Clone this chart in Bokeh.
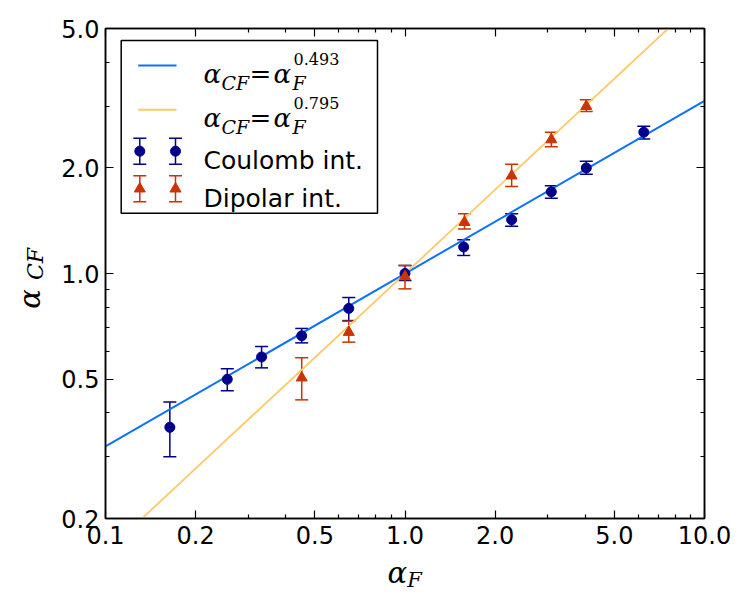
import math
from bokeh.plotting import figure
from bokeh.models import (Range1d, LinearScale, LogAxis, FixedTicker, NumeralTickFormatter,
                          ColumnDataSource, Whisker, TeeHead, Label, CustomLabelingPolicy,
                          CustomJSTickFormatter)
from bokeh.embed import file_html
from bokeh.resources import INLINE

# ---------------- data ----------------
coulomb_x = [0.164, 0.255, 0.332, 0.452, 0.649, 1.0, 1.57, 2.27, 3.08, 4.03, 6.27]
coulomb_y = [0.364, 0.499, 0.578, 0.664, 0.795, 1.0, 1.19, 1.423, 1.71, 2.00, 2.53]
coulomb_lo = [0.30, 0.463, 0.538, 0.634, 0.734, 0.955, 1.126, 1.365, 1.64, 1.92, 2.42]
coulomb_hi = [0.43, 0.535, 0.619, 0.697, 0.854, 1.054, 1.248, 1.48, 1.78, 2.09, 2.63]

dipolar_x = [0.452, 0.649, 1.0, 1.58, 2.27, 3.08, 4.03]
dipolar_y = [0.504, 0.680, 0.98, 1.40, 1.90, 2.41, 3.00]
dipolar_lo = [0.436, 0.637, 0.904, 1.34, 1.77, 2.30, 2.90]
dipolar_hi = [0.575, 0.731, 1.054, 1.48, 2.05, 2.53, 3.13]

fit_x = [0.1, 10.0]
coulomb_fit = [0.321, 3.11]   # alpha_F ** 0.493
dipolar_fit = [0.160, 6.24]   # alpha_F ** 0.795

x_major = [0.1, 0.2, 0.5, 1.0, 2.0, 5.0, 10.0]
x_minor = [0.3, 0.4, 0.6, 0.7, 0.8, 0.9, 3.0, 4.0, 6.0, 7.0, 8.0, 9.0]
y_major = [0.2, 0.5, 1.0, 2.0, 5.0]
y_minor = [0.3, 0.4, 0.6, 0.7, 0.8, 0.9, 3.0, 4.0]

legend_labels = ["Coulomb int.", "Dipolar int."]
fit_exponents = ["0.493", "0.795"]

# ---------------- styles ----------------
BLUE_LINE = "#0a72ff"
YELLOW_LINE = "#ffc966"
NAVY = "#00008b"
RED = "#cc3300"
SERIF = "DejaVu Serif"
SANS = "DejaVu Sans"

FL, FT, FW, FH = 105, 28, 599, 490   # frame box on the page
W, H = 748, 612

p = figure(width=W, height=H, x_axis_type="log", y_axis_type="log",
           x_range=Range1d(0.1, 10.0), y_range=Range1d(0.2, 5.0),
           output_backend="svg", toolbar_location=None,
           min_border_left=FL, min_border_right=W - FL - FW,
           min_border_top=FT, min_border_bottom=H - FT - FH)
p.grid.visible = False
p.outline_line_color = "black"
p.outline_line_width = 1.5
p.background_fill_color = "white"
p.border_fill_color = "white"

# pixel-like helper ranges for the legend (page coordinates inside the frame)
p.extra_x_ranges = {"px": Range1d(FL, FL + FW)}
p.extra_y_ranges = {"py": Range1d(FT + FH, FT)}
p.extra_x_scales = {"px": LinearScale()}
p.extra_y_scales = {"py": LinearScale()}

hide_all = CustomLabelingPolicy(code="for (const i of indices) indices.unset(i); return indices")

def style_axis(ax, ticks, minor, show_labels):
    ax.ticker = FixedTicker(ticks=ticks, minor_ticks=minor)
    ax.formatter = NumeralTickFormatter(format="0.0")
    ax.major_tick_in = 8
    ax.major_tick_out = 0
    ax.minor_tick_in = 4
    ax.minor_tick_out = 0
    ax.major_tick_line_width = 1.2
    ax.minor_tick_line_width = 1.2
    ax.axis_line_width = 1.5
    ax.axis_line_color = "black"
    ax.major_tick_line_color = "black"
    ax.minor_tick_line_color = "black"
    ax.major_label_text_font = SANS
    ax.major_label_text_color = "black"
    if show_labels:
        ax.major_label_text_font_size = "24px"
    else:
        ax.major_label_text_font_size = "2px"
        ax.major_label_policy = hide_all
    ax.axis_label = None

style_axis(p.xaxis[0], x_major, x_minor, True)
style_axis(p.yaxis[0], y_major, y_minor, True)
p.xaxis[0].major_label_standoff = 7
p.yaxis[0].major_label_standoff = 6

top_ax = LogAxis()
right_ax = LogAxis()
style_axis(top_ax, x_major, x_minor, False)
style_axis(right_ax, y_major, y_minor, False)
p.add_layout(top_ax, "above")
p.add_layout(right_ax, "right")

# composed axis titles: each piece is the single label of an invisible helper axis
def title_piece(where, tick, text, size, standoff, orientation="horizontal"):
    ax = LogAxis()
    ax.ticker = FixedTicker(ticks=[tick], minor_ticks=[])
    ax.formatter = CustomJSTickFormatter(code=f"return '{text}'")
    ax.axis_line_color = None
    ax.major_tick_line_color = None
    ax.minor_tick_line_color = None
    ax.major_tick_in = 0
    ax.major_tick_out = 0
    ax.minor_tick_in = 0
    ax.minor_tick_out = 0
    ax.major_label_standoff = standoff
    ax.major_label_orientation = orientation
    ax.major_label_text_font = SERIF
    ax.major_label_text_font_style = "italic"
    ax.major_label_text_font_size = f"{size}px"
    ax.major_label_text_color = "black"
    ax.axis_label = None
    p.add_layout(ax, where)

title_piece("below", 0.942, "α", 29, 9)
title_piece("below", 1.076, "F", 21, -25)
title_piece("left", 1.064, "CF", 22, 10, "parallel")
title_piece("left", 0.846, "α", 29, -27, "parallel")

# ---------------- fit lines ----------------
p.line(fit_x, coulomb_fit, line_color=BLUE_LINE, line_width=2)
p.line(fit_x, dipolar_fit, line_color=YELLOW_LINE, line_width=1.8)

# ---------------- data with error bars ----------------
src_c = ColumnDataSource(dict(x=coulomb_x, y=coulomb_y, lo=coulomb_lo, hi=coulomb_hi))
src_d = ColumnDataSource(dict(x=dipolar_x, y=dipolar_y, lo=dipolar_lo, hi=dipolar_hi))

for src, col in ((src_c, NAVY), (src_d, RED)):
    w = Whisker(base="x", lower="lo", upper="hi", source=src, dimension="height",
                line_color=col, line_width=1.5,
                upper_head=TeeHead(size=13, line_color=col, line_width=1.5),
                lower_head=TeeHead(size=13, line_color=col, line_width=1.5))
    p.add_layout(w)

p.scatter("x", "y", source=src_c, marker="circle", size=10, fill_color=NAVY, line_color=NAVY)
p.scatter("x", "y", source=src_d, marker="triangle", size=11, fill_color=RED, line_color=RED)

# ---------------- legend (drawn in page pixel coordinates) ----------------
R = dict(x_range_name="px", y_range_name="py")
p.quad(left=[120.7], right=[377], top=[40], bottom=[212.7], fill_color="white",
       line_color="black", line_width=1.5, **R)

line_rows = [65, 109.3]
for yy, col in zip(line_rows, (BLUE_LINE, YELLOW_LINE)):
    p.segment(x0=[137.7], y0=[yy], x1=[176], y1=[yy], line_color=col, line_width=2, **R)

def add_label(x, y, text, size, font=SERIF, style="italic", angle=0.0, align="left"):
    p.add_layout(Label(x=x, y=y, text=text, text_font=font, text_font_style=style,
                       text_font_size=f"{size}px", text_color="black", angle=angle,
                       text_align=align, text_baseline="alphabetic", **R))

for yy, expo in zip(line_rows, fit_exponents):
    b = yy + 8
    add_label(203, b, "α", 26)
    add_label(221, b + 9, "CF", 19)
    add_label(249, b, "=", 26, style="normal")
    add_label(273, b, "α", 26)
    add_label(292, b + 9, "F", 19)
    add_label(293, b - 15, expo, 16, style="normal")

marker_rows = [150.7, 188.3]
bar_half = 13
for yy, col, mk, lab in zip(marker_rows, (NAVY, RED), ("circle", "triangle"), legend_labels):
    for xx in (139.3, 175.0):
        p.segment(x0=[xx], y0=[yy - bar_half], x1=[xx], y1=[yy + bar_half],
                  line_color=col, line_width=1.5, **R)
        p.segment(x0=[xx - 6.5, xx - 6.5], y0=[yy - bar_half, yy + bar_half],
                  x1=[xx + 6.5, xx + 6.5], y1=[yy - bar_half, yy + bar_half],
                  line_color=col, line_width=1.5, **R)
    p.scatter(x=[139.3, 175.0], y=[yy, yy], marker=mk, size=10 if mk == "circle" else 11,
              fill_color=col, line_color=col, **R)
    add_label(203, yy + 9.5, lab, 25, font=SANS, style="normal")

open("out.html", "w").write(file_html(p, INLINE))
